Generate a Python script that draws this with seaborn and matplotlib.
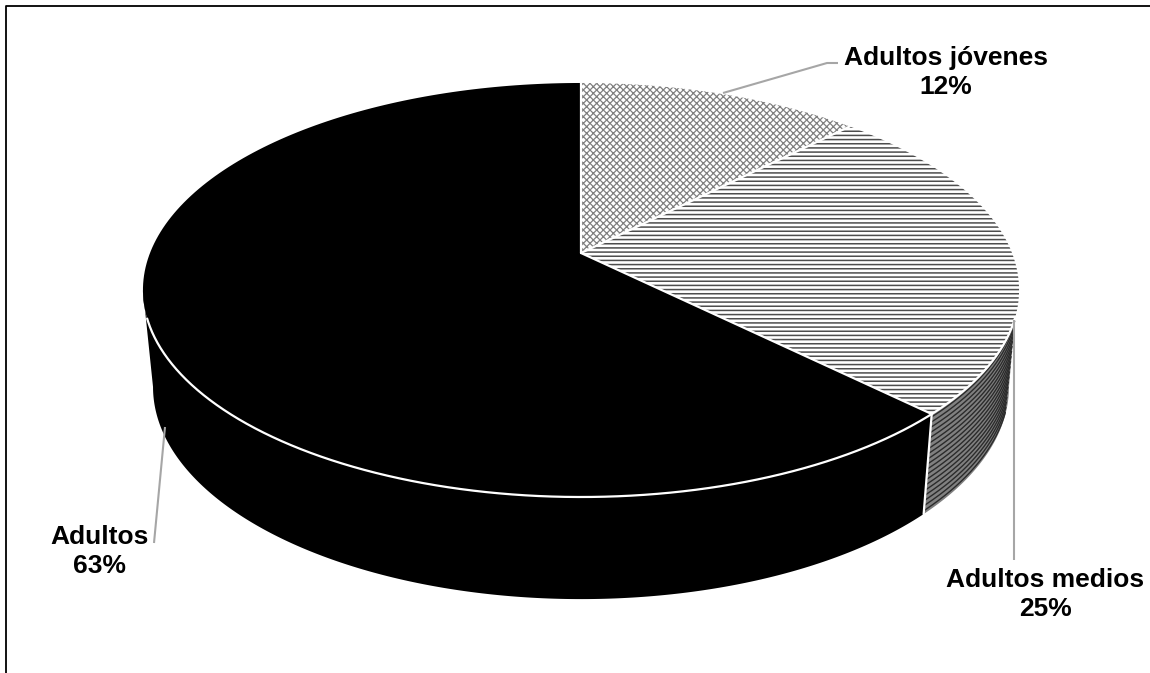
import matplotlib
matplotlib.use("Agg")
import matplotlib.pyplot as plt
import numpy as np
import pandas as pd
import seaborn as sns
from matplotlib.patches import Polygon

# slice order runs clockwise from 12 o'clock
categories = ["Adultos jóvenes", "Adultos medios", "Adultos"]
shares = [12.4, 25.0, 62.6]
hatches = ["xxxxx", "----", None]
hatch_colors = ["#808080", "#4d4d4d", "black"]
hatch_widths = [0.9, 1.1, 0.8]

# pixel geometry of the tilted disc
CX, CY = 581, 253
A, B, K = 431, 200.4, 0.1787
SX, SY, FLOOR_Y = 0.977, 1.025, 349


def rim(deg, bottom=False):
    t = np.radians(deg)
    u, v = np.sin(t), np.cos(t)
    w = 1 + K * v
    x, y = A * u / w, -B * v / w
    if bottom:
        return CX + SX * x, FLOOR_Y + SY * y
    return CX + x, CY + y


def arc(a, b, bottom=False, n=200):
    return np.column_stack(rim(np.linspace(a, b, n), bottom))


def face(a, b):
    return np.vstack([[CX, CY], arc(a, b)])


def wall(a, b, a2=None, b2=None):
    a2 = a if a2 is None else a2
    b2 = b if b2 is None else b2
    return np.vstack([arc(a, b), arc(b2, a2, bottom=True)])


def white_line(ax, pts, lw=1.6):
    df = pd.DataFrame(pts, columns=["x", "y"])
    sns.lineplot(data=df, x="x", y="y", sort=False, estimator=None, color="white", lw=lw, ax=ax, zorder=6)


sns.set_theme(style="white")
plt.rcParams["font.family"] = ["Liberation Sans", "DejaVu Sans"]

fig = plt.figure(figsize=(11.5, 6.73), dpi=100)
ax = fig.add_axes([0, 0, 1, 1])
ax.set_xlim(0, 1150)
ax.set_ylim(673, 0)
ax.axis("off")

edges = np.cumsum([0] + shares) * 3.6
sil_r, sil_l = 100.3, 259.7
front_start = 107.9

# side wall, right part: gray with curved dark stripes
ax.add_patch(Polygon(wall(front_start, edges[2], sil_r, edges[2]), fc="#808080", ec="none", zorder=1))
for f in np.arange(0.03, 1.0, 0.052):
    top = arc(front_start, edges[2])
    low = arc(front_start, edges[2], bottom=True)
    ax.plot(*(top + (low - top) * f).T, color="#2b2b2b", lw=1.0, zorder=2)

# side wall, front part
ax.add_patch(Polygon(wall(edges[2], sil_l), fc="black", ec="none", zorder=1))

# top faces
for i, cat in enumerate(categories):
    with plt.rc_context({"hatch.linewidth": hatch_widths[i]}):
        ax.add_patch(Polygon(face(edges[i], edges[i + 1]), fc="black" if hatches[i] is None else "white",
                             ec=hatch_colors[i], hatch=hatches[i], lw=0, zorder=3))

# white separators
white_line(ax, arc(front_start, 252.0))
for e in edges[:3]:
    white_line(ax, np.vstack([[CX, CY], rim(e)]))
white_line(ax, np.array([rim(edges[2]), rim(edges[2], bottom=True)]))

# leader lines
for xs, ys in [([723, 827, 838], [93, 63, 63]), ([1014, 1014], [320, 560]), ([165, 154], [427, 543])]:
    ax.plot(xs, ys, color="#a6a6a6", lw=1.5, zorder=7, solid_capstyle="butt")

# frame
ax.plot([6, 6, 1150], [673, 6, 6], color="black", lw=1.3, zorder=8)

label_pos = [(945.5, 72.5), (1045, 594.5), (100, 551.5)]
for cat, share, (x, y) in zip(categories, shares, label_pos):
    ax.text(x, y, f"{cat}\n{round(share)}%", ha="center", va="center", fontsize=19, fontweight="bold",
            color="black", linespacing=1.31, zorder=9)

fig.savefig("out.png", dpi=100)
